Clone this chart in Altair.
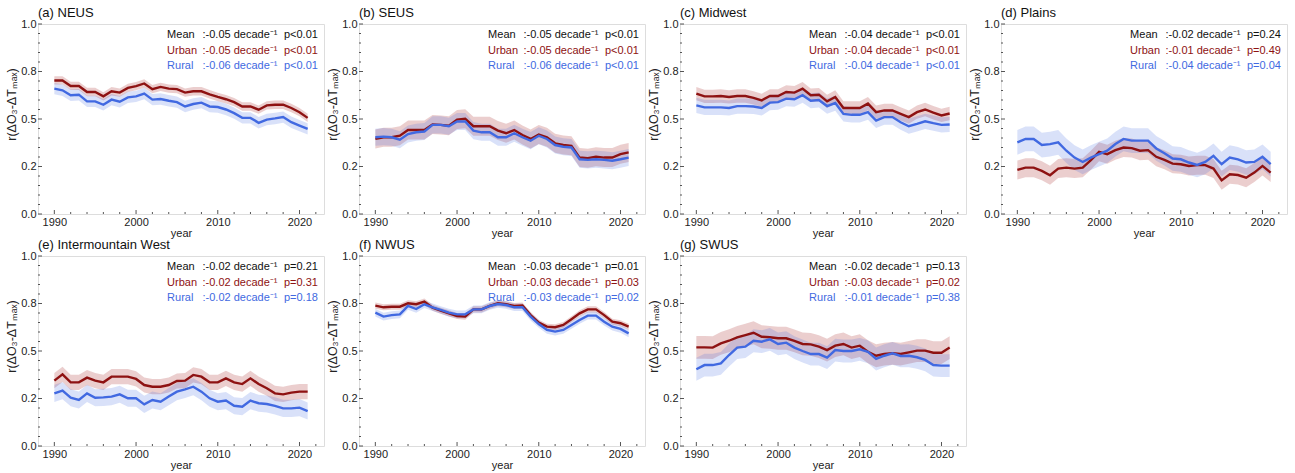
import altair as alt
import pandas as pd

years = list(range(1990, 2022))

region_titles = ["(a) NEUS", "(b) SEUS", "(c) Midwest", "(d) Plains",
                 "(e) Intermountain West", "(f) NWUS", "(g) SWUS"]

# ---- series values ----
neus_urban = [0.703, 0.703, 0.674, 0.674, 0.642, 0.642, 0.619, 0.646, 0.639, 0.664,
              0.673, 0.687, 0.657, 0.669, 0.660, 0.657, 0.639, 0.646, 0.646, 0.630,
              0.616, 0.604, 0.589, 0.566, 0.566, 0.549, 0.572, 0.575, 0.575, 0.558,
              0.536, 0.506]
neus_rural = [0.660, 0.651, 0.625, 0.628, 0.593, 0.593, 0.575, 0.602, 0.591, 0.614,
              0.619, 0.634, 0.602, 0.605, 0.596, 0.589, 0.566, 0.579, 0.586, 0.566,
              0.563, 0.550, 0.531, 0.506, 0.506, 0.480, 0.497, 0.503, 0.510, 0.483,
              0.465, 0.448]
seus_urban = [0.395, 0.404, 0.404, 0.412, 0.442, 0.442, 0.442, 0.471, 0.469, 0.465,
              0.497, 0.501, 0.462, 0.462, 0.462, 0.439, 0.425, 0.442, 0.416, 0.395,
              0.418, 0.404, 0.372, 0.363, 0.359, 0.297, 0.294, 0.301, 0.297, 0.297,
              0.315, 0.324]
seus_rural = [0.404, 0.407, 0.404, 0.391, 0.421, 0.430, 0.434, 0.469, 0.469, 0.462,
              0.487, 0.487, 0.439, 0.430, 0.430, 0.404, 0.404, 0.425, 0.404, 0.386,
              0.412, 0.395, 0.363, 0.354, 0.350, 0.288, 0.285, 0.288, 0.285, 0.280,
              0.288, 0.297]
midw_urban = [0.634, 0.619, 0.619, 0.621, 0.616, 0.621, 0.621, 0.611, 0.598, 0.621,
              0.621, 0.642, 0.639, 0.660, 0.625, 0.628, 0.593, 0.616, 0.558, 0.558,
              0.558, 0.581, 0.536, 0.545, 0.545, 0.527, 0.510, 0.536, 0.550, 0.533,
              0.519, 0.529]
midw_rural = [0.572, 0.561, 0.561, 0.561, 0.558, 0.568, 0.568, 0.566, 0.558, 0.586,
              0.589, 0.607, 0.604, 0.625, 0.596, 0.600, 0.568, 0.584, 0.527, 0.522,
              0.522, 0.536, 0.492, 0.510, 0.510, 0.483, 0.462, 0.474, 0.488, 0.478,
              0.469, 0.471]
plains_urban = [0.232, 0.244, 0.244, 0.227, 0.204, 0.239, 0.244, 0.239, 0.244, 0.283,
                0.327, 0.315, 0.336, 0.350, 0.347, 0.333, 0.336, 0.301, 0.285, 0.265,
                0.262, 0.253, 0.257, 0.257, 0.239, 0.177, 0.209, 0.205, 0.191, 0.218,
                0.253, 0.218]
plains_rural = [0.377, 0.395, 0.395, 0.363, 0.368, 0.377, 0.333, 0.297, 0.274, 0.297,
                0.315, 0.333, 0.368, 0.395, 0.386, 0.386, 0.386, 0.345, 0.320, 0.292,
                0.288, 0.271, 0.258, 0.274, 0.306, 0.262, 0.297, 0.288, 0.271, 0.274,
                0.301, 0.262]
imw_urban = [0.344, 0.377, 0.335, 0.335, 0.360, 0.344, 0.335, 0.365, 0.365, 0.365,
             0.353, 0.321, 0.312, 0.312, 0.321, 0.342, 0.344, 0.374, 0.365, 0.335,
             0.335, 0.356, 0.335, 0.326, 0.356, 0.326, 0.304, 0.277, 0.272, 0.281,
             0.286, 0.286]
imw_rural = [0.277, 0.291, 0.254, 0.242, 0.277, 0.254, 0.256, 0.260, 0.272, 0.251,
             0.251, 0.219, 0.242, 0.233, 0.260, 0.286, 0.298, 0.312, 0.286, 0.251,
             0.233, 0.239, 0.212, 0.207, 0.239, 0.225, 0.221, 0.211, 0.198, 0.198,
             0.202, 0.184]
nwus_urban = [0.739, 0.730, 0.733, 0.733, 0.751, 0.746, 0.760, 0.728, 0.712, 0.698,
              0.684, 0.681, 0.719, 0.719, 0.737, 0.751, 0.746, 0.737, 0.739, 0.689,
              0.649, 0.628, 0.625, 0.637, 0.667, 0.698, 0.719, 0.719, 0.689, 0.654,
              0.646, 0.628]
nwus_rural = [0.702, 0.681, 0.689, 0.693, 0.737, 0.721, 0.746, 0.730, 0.716, 0.702,
              0.693, 0.693, 0.719, 0.719, 0.737, 0.747, 0.742, 0.730, 0.730, 0.681,
              0.642, 0.611, 0.602, 0.611, 0.637, 0.663, 0.686, 0.686, 0.654, 0.628,
              0.616, 0.593]
swus_urban = [0.519, 0.519, 0.518, 0.540, 0.554, 0.572, 0.584, 0.596, 0.575, 0.572,
              0.567, 0.567, 0.553, 0.537, 0.535, 0.523, 0.505, 0.528, 0.537, 0.518,
              0.528, 0.496, 0.475, 0.484, 0.488, 0.484, 0.493, 0.502, 0.502, 0.491,
              0.491, 0.518]
swus_rural = [0.404, 0.426, 0.426, 0.435, 0.479, 0.518, 0.523, 0.554, 0.549, 0.561,
              0.537, 0.544, 0.518, 0.500, 0.484, 0.484, 0.465, 0.505, 0.500, 0.500,
              0.509, 0.496, 0.458, 0.475, 0.488, 0.474, 0.475, 0.467, 0.453, 0.426,
              0.423, 0.423]

urban_series = [neus_urban, seus_urban, midw_urban, plains_urban, imw_urban, nwus_urban, swus_urban]
rural_series = [neus_rural, seus_rural, midw_rural, plains_rural, imw_rural, nwus_rural, swus_rural]

# uncertainty half-widths of the shaded bands
urban_halfwidth = [0.022, 0.05, 0.035, 0.05, 0.04, 0.016, 0.06]
rural_halfwidth = [0.03, 0.045, 0.04, 0.065, 0.045, 0.02, 0.06]

# ---- trend annotations ----
mean_trend = ["-0.05", "-0.05", "-0.04", "-0.02", "-0.02", "-0.03", "-0.02"]
mean_p = ["p<0.01", "p<0.01", "p<0.01", "p=0.24", "p=0.21", "p=0.01", "p=0.13"]
urban_trend = ["-0.05", "-0.05", "-0.04", "-0.01", "-0.02", "-0.03", "-0.03"]
urban_p = ["p<0.01", "p<0.01", "p<0.01", "p=0.49", "p=0.31", "p=0.03", "p=0.02"]
rural_trend = ["-0.06", "-0.06", "-0.04", "-0.04", "-0.02", "-0.03", "-0.01"]
rural_p = ["p<0.01", "p<0.01", "p<0.01", "p=0.04", "p=0.18", "p=0.02", "p=0.38"]

# ---- axes ----
x_tick_values = [1990, 2000, 2010, 2020]
x_minor_values = [1992, 1994, 1996, 1998, 2002, 2004, 2006, 2008, 2012, 2014, 2016, 2018, 2022]
y_tick_values = [0.0, 0.25, 0.5, 0.75, 1.0]
y_tick_labels = ["0.0", "0.2", "0.5", "0.8", "1.0"]
y_minor_values = [0.05, 0.1, 0.15, 0.2, 0.3, 0.35, 0.4, 0.45, 0.55, 0.6, 0.65, 0.7,
                  0.8, 0.85, 0.9, 0.95]

URBAN_C = "#8e1212"
RURAL_C = "#4169e1"
FRAME_C = "#555555"
FONT = "Liberation Sans"

W, H = 286, 190

label_expr = ""
for v, l in zip(y_tick_values, y_tick_labels):
    label_expr += f"abs(datum.value - {v}) < 0.001 ? '{l}' : "
label_expr += "''"

x_scale = alt.Scale(domain=[1988, 2023], nice=False, zero=False)
y_scale = alt.Scale(domain=[0, 1], nice=False, zero=False)

x_enc = alt.X("year:Q", scale=x_scale,
              axis=alt.Axis(values=x_tick_values, format="d", title="year",
                            ticks=False, domain=False, grid=False,
                            labelFontSize=11, labelPadding=2, labelColor="#222",
                            titleFontSize=11, titlePadding=0,
                            titleFontWeight="normal", titleColor="#222"))
y_enc = alt.Y("value:Q", scale=y_scale,
              axis=alt.Axis(values=y_tick_values, labelExpr=label_expr,
                            title="r(ΔO₃-ΔTₘₐₓ)", ticks=False, domain=False,
                            grid=False, labelFontSize=11, labelPadding=2,
                            labelColor="#222", titleFontSize=12.5, titlePadding=2,
                            titleY=80,
                            titleFontWeight="normal", titleColor="#222"))

LABEL_X = 2003.8
VALUE_X = 2017.3
P_X = 2018.1
TEXT_Y = [0.94, 0.86, 0.78]


def panel(i):
    rows = []
    for name, vals, hw in (("Urban", urban_series[i], urban_halfwidth[i]),
                           ("Rural", rural_series[i], rural_halfwidth[i])):
        for yr, v in zip(years, vals):
            rows.append({"year": yr, "series": name, "value": v,
                         "lo": v - hw, "hi": v + hw})
    df = pd.DataFrame(rows)
    base = alt.Chart(df)

    band_u = base.transform_filter("datum.series == 'Urban'").mark_area(
        opacity=0.22, color="#a32020").encode(
        x=x_enc, y=alt.Y("lo:Q", scale=y_scale), y2="hi:Q")
    band_r = base.transform_filter("datum.series == 'Rural'").mark_area(
        opacity=0.2, color=RURAL_C).encode(
        x=x_enc, y=alt.Y("lo:Q", scale=y_scale), y2="hi:Q")
    line_u = base.transform_filter("datum.series == 'Urban'").mark_line(
        strokeWidth=2.4, color=URBAN_C).encode(x=x_enc, y=y_enc)
    line_r = base.transform_filter("datum.series == 'Rural'").mark_line(
        strokeWidth=2.4, color=RURAL_C).encode(x=x_enc, y=y_enc)

    tdf = pd.DataFrame({
        "label": ["Mean", "Urban", "Rural"],
        "trend": [":" + mean_trend[i] + " decade⁻¹",
                  ":" + urban_trend[i] + " decade⁻¹",
                  ":" + rural_trend[i] + " decade⁻¹"],
        "p": [mean_p[i], urban_p[i], rural_p[i]],
        "kind": ["Mean", "Urban", "Rural"],
        "value": TEXT_Y,
        "lx": [LABEL_X] * 3, "vx": [VALUE_X] * 3, "px": [P_X] * 3,
    })
    tcol = alt.Color("kind:N", scale=alt.Scale(domain=["Mean", "Urban", "Rural"],
                                               range=["#111111", URBAN_C, RURAL_C]),
                     legend=None)
    tbase = alt.Chart(tdf)
    t1 = tbase.mark_text(align="left", baseline="middle", fontSize=11, font=FONT).encode(
        x=alt.X("lx:Q", scale=x_scale), y=alt.Y("value:Q", scale=y_scale),
        text="label:N", color=tcol)
    t2 = tbase.mark_text(align="right", baseline="middle", fontSize=11, font=FONT).encode(
        x=alt.X("vx:Q", scale=x_scale), y=alt.Y("value:Q", scale=y_scale),
        text="trend:N", color=tcol)
    t3 = tbase.mark_text(align="left", baseline="middle", fontSize=11, font=FONT).encode(
        x=alt.X("px:Q", scale=x_scale), y=alt.Y("value:Q", scale=y_scale),
        text="p:N", color=tcol)

    # inward tick marks
    xmaj = alt.Chart(pd.DataFrame({"year": x_tick_values})).mark_rule(
        color=FRAME_C, strokeWidth=1).encode(
        x=alt.X("year:Q", scale=x_scale), y=alt.value(H), y2=alt.value(H - 4))
    xmin = alt.Chart(pd.DataFrame({"year": x_minor_values})).mark_rule(
        color=FRAME_C, strokeWidth=1).encode(
        x=alt.X("year:Q", scale=x_scale), y=alt.value(H), y2=alt.value(H - 2))
    ymaj = alt.Chart(pd.DataFrame({"value": y_tick_values})).mark_rule(
        color=FRAME_C, strokeWidth=1).encode(
        y=alt.Y("value:Q", scale=y_scale), x=alt.value(0), x2=alt.value(4))
    ymin = alt.Chart(pd.DataFrame({"value": y_minor_values})).mark_rule(
        color=FRAME_C, strokeWidth=1).encode(
        y=alt.Y("value:Q", scale=y_scale), x=alt.value(0), x2=alt.value(2))

    return alt.layer(band_u, band_r, line_u, line_r, xmaj, xmin, ymaj, ymin,
                     t1, t2, t3).properties(
        width=W, height=H,
        title=alt.Title(region_titles[i], anchor="start", frame="group",
                        fontSize=13, fontWeight="normal", font=FONT,
                        color="#111", offset=-2))


chart = alt.concat(*[panel(i) for i in range(7)], columns=4,
                   spacing={"row": 42, "column": 35}, bounds="flush").properties(
    padding={"left": 5, "top": 6, "right": 5, "bottom": 2},
    background="white",
).configure_view(stroke=FRAME_C, strokeWidth=1).configure(font=FONT)

chart.save("out.html", embed_options={"renderer": "svg", "actions": False})
